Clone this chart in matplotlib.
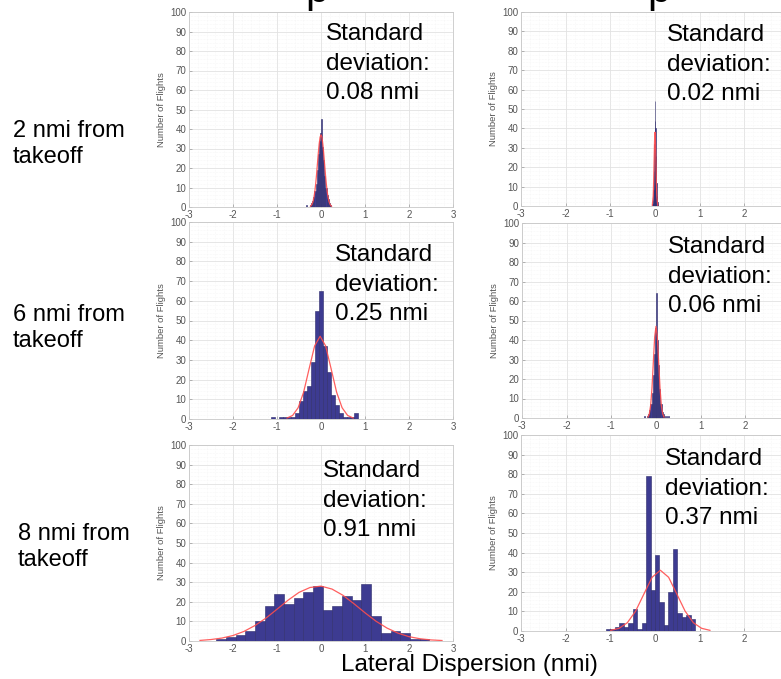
import matplotlib
matplotlib.use("Agg")
import matplotlib.pyplot as plt
import numpy as np
from matplotlib.ticker import MultipleLocator

W, H = 781, 679
FONT = ["Liberation Sans", "DejaVu Sans"]
BAR = "#3d3b91"
BAR_EDGE = "#2c2a6a"
FIT = "#ff4d4d"

XTICKS = [-3, -2, -1, 0, 1, 2, 3]
YTICKS = [0, 10, 20, 30, 40, 50, 60, 70, 80, 90, 100]

ROW_LABELS = ["2 nmi from\ntakeoff", "6 nmi from\ntakeoff", "8 nmi from\ntakeoff"]
SD_LABELS = ["0.08", "0.02", "0.25", "0.06", "0.91", "0.37"]

# histogram bins: first left edge, bin width, counts
tl_start, tl_width = -0.35, 0.025
tl_counts = [1, 0, 0, 0, 1, 2, 3, 5, 8, 12, 19, 27, 34, 38, 45, 31, 24, 16, 10, 6, 4, 2, 1]
tr_start, tr_width = -0.06, 0.01
tr_counts = [1, 3, 8, 18, 32, 44, 54, 40, 26, 12, 5, 2, 1]
ml_start, ml_width = -1.13, 0.09
ml_counts = [1, 0, 1, 1, 1, 1, 3, 9, 14, 17, 29, 55, 65, 37, 24, 12, 7, 3, 1, 1, 1, 3]
mr_start, mr_width = -0.275, 0.025
mr_counts = [1, 0, 0, 1, 2, 4, 7, 13, 22, 33, 46, 64, 40, 27, 15, 7, 3, 2, 1, 0, 1, 0, 1]
bl_start, bl_width = -2.38, 0.22
bl_counts = [1, 2, 3, 5, 10, 18, 24, 19, 22, 25, 28, 16, 18, 23, 21, 29, 13, 4, 5, 4, 1, 1]
br_start, br_width = -1.1, 0.1
br_counts = [1, 1, 2, 4, 2, 4, 11, 1, 4, 79, 21, 39, 15, 3, 20, 42, 9, 7, 8, 6]

# fitted normal curves
tl_fit_x = [-0.24, -0.22, -0.2, -0.18, -0.16, -0.14, -0.12, -0.1, -0.08, -0.06, -0.04, -0.02, 0.0,
            0.02, 0.04, 0.06, 0.08, 0.1, 0.12, 0.14, 0.16, 0.18, 0.2, 0.22, 0.24]
tl_fit_y = [0.4, 0.8, 1.6, 2.9, 5.0, 8.0, 12.0, 16.9, 22.4, 27.9, 32.6, 35.9, 37.0,
            35.9, 32.6, 27.9, 22.4, 16.9, 12.0, 8.0, 5.0, 2.9, 1.6, 0.8, 0.4]
tr_fit_x = [-0.06, -0.04, -0.03, -0.02, -0.01, 0.0, 0.01, 0.02, 0.03, 0.04, 0.06]
tr_fit_y = [0.4, 5.1, 12.3, 23.0, 33.5, 38.0, 33.5, 23.0, 12.3, 5.1, 0.4]
ml_fit_x = [-0.77, -0.645, -0.52, -0.395, -0.27, -0.145, -0.02, 0.105, 0.23, 0.355, 0.48, 0.605, 0.73]
ml_fit_y = [0.5, 1.8, 5.7, 13.6, 25.5, 37.1, 42.0, 37.1, 25.5, 13.6, 5.7, 1.8, 0.5]
mr_fit_x = [-0.18, -0.15, -0.12, -0.09, -0.06, -0.03, 0.0, 0.03, 0.06, 0.09, 0.12, 0.15, 0.18]
mr_fit_y = [0.5, 2.1, 6.4, 15.3, 28.5, 41.5, 47.0, 41.5, 28.5, 15.3, 6.4, 2.1, 0.5]
bl_fit_x = [-2.75, -2.5, -2.25, -2.0, -1.75, -1.5, -1.25, -1.0, -0.75, -0.5, -0.25, 0.0,
            0.25, 0.5, 0.75, 1.0, 1.25, 1.5, 1.75, 2.0, 2.25, 2.5, 2.75]
bl_fit_y = [0.3, 0.75, 1.5, 2.8, 4.9, 7.9, 11.7, 16.2, 20.8, 24.8, 27.3, 28.0,
            26.5, 23.3, 19.0, 14.4, 10.1, 6.6, 4.0, 2.2, 1.15, 0.55, 0.25]
br_fit_x = [-0.99, -0.805, -0.62, -0.435, -0.25, -0.065, 0.12, 0.305, 0.49, 0.675, 0.86, 1.045, 1.23]
br_fit_y = [0.34, 1.36, 4.2, 10.1, 18.8, 27.4, 31.0, 27.4, 18.8, 10.1, 4.2, 1.36, 0.34]

# axes boxes in pixels: left, top, right, bottom
BOXES = [(189, 12, 453, 207), (521, 12, 789, 206),
         (189, 222, 453, 419), (522, 223, 790, 418),
         (189, 445, 453, 641), (521, 435, 789, 631)]
SD_POS = [(326, 23), (667, 24), (335, 244), (668, 236), (323, 460), (665, 448)]
ROW_POS = [(13, 120), (13, 304), (18, 523)]
# bottoms of the cut-off title letters at the top edge
TITLE_BITS = [(305, 11), (647, 11)]


def px_axes(fig, box):
    x0, y0, x1, y1 = box
    return fig.add_axes([x0 / W, 1 - y1 / H, (x1 - x0) / W, (y1 - y0) / H])


def style(ax):
    ax.set_xlim(-3, 3)
    ax.set_ylim(0, 100)
    ax.set_xticks(XTICKS)
    ax.set_yticks(YTICKS)
    ax.xaxis.set_minor_locator(MultipleLocator(0.2))
    ax.yaxis.set_minor_locator(MultipleLocator(2))
    ax.grid(which="major", color="#e2e2e2", lw=0.6)
    ax.grid(which="minor", color="#f1f1f1", lw=0.4, ls=":")
    ax.set_axisbelow(True)
    ax.tick_params(which="major", direction="in", length=2.5, width=0.5, color="#999999",
                   labelsize=7, labelcolor="#555555", pad=2)
    ax.tick_params(which="minor", length=0)
    for s in ax.spines.values():
        s.set_color("#c8c8c8")
        s.set_linewidth(0.6)
    ax.set_ylabel("Number of Flights", fontsize=6.8, color="#555555", labelpad=3)


def hist_panel(ax, start, width, counts, fit_x, fit_y):
    lefts = start + width * np.arange(len(counts))
    ax.bar(lefts, counts, width=width, align="edge", color=BAR, edgecolor=BAR_EDGE, linewidth=0.4)
    ax.plot(fit_x, fit_y, color=FIT, lw=0.9, alpha=0.9)
    style(ax)


plt.rcParams["font.family"] = FONT
plt.rcParams["axes.unicode_minus"] = False
fig = plt.figure(figsize=(W / 100, H / 100), dpi=100)

panels = [(tl_start, tl_width, tl_counts, tl_fit_x, tl_fit_y),
          (tr_start, tr_width, tr_counts, tr_fit_x, tr_fit_y),
          (ml_start, ml_width, ml_counts, ml_fit_x, ml_fit_y),
          (mr_start, mr_width, mr_counts, mr_fit_x, mr_fit_y),
          (bl_start, bl_width, bl_counts, bl_fit_x, bl_fit_y),
          (br_start, br_width, br_counts, br_fit_x, br_fit_y)]

for box, p, sd, pos in zip(BOXES, panels, SD_LABELS, SD_POS):
    ax = px_axes(fig, box)
    hist_panel(ax, *p)
    fig.text(pos[0] / W, 1 - pos[1] / H, f"Standard\ndeviation:\n{sd} nmi",
             fontsize=17.5, ha="left", va="top", linespacing=1.45, color="black")

for label, pos in zip(ROW_LABELS, ROW_POS):
    fig.text(pos[0] / W, 1 - pos[1] / H, label, fontsize=17, ha="left", va="top",
             linespacing=1.25, color="black")

for x, y in TITLE_BITS:
    fig.text(x / W, 1 - y / H, "p", fontsize=30, ha="left", va="bottom", color="black")

fig.text(469 / W, 1 - 671 / H, "Lateral Dispersion (nmi)", fontsize=17.5, ha="center",
         va="baseline", color="black")

fig.savefig("out.png", dpi=100)
